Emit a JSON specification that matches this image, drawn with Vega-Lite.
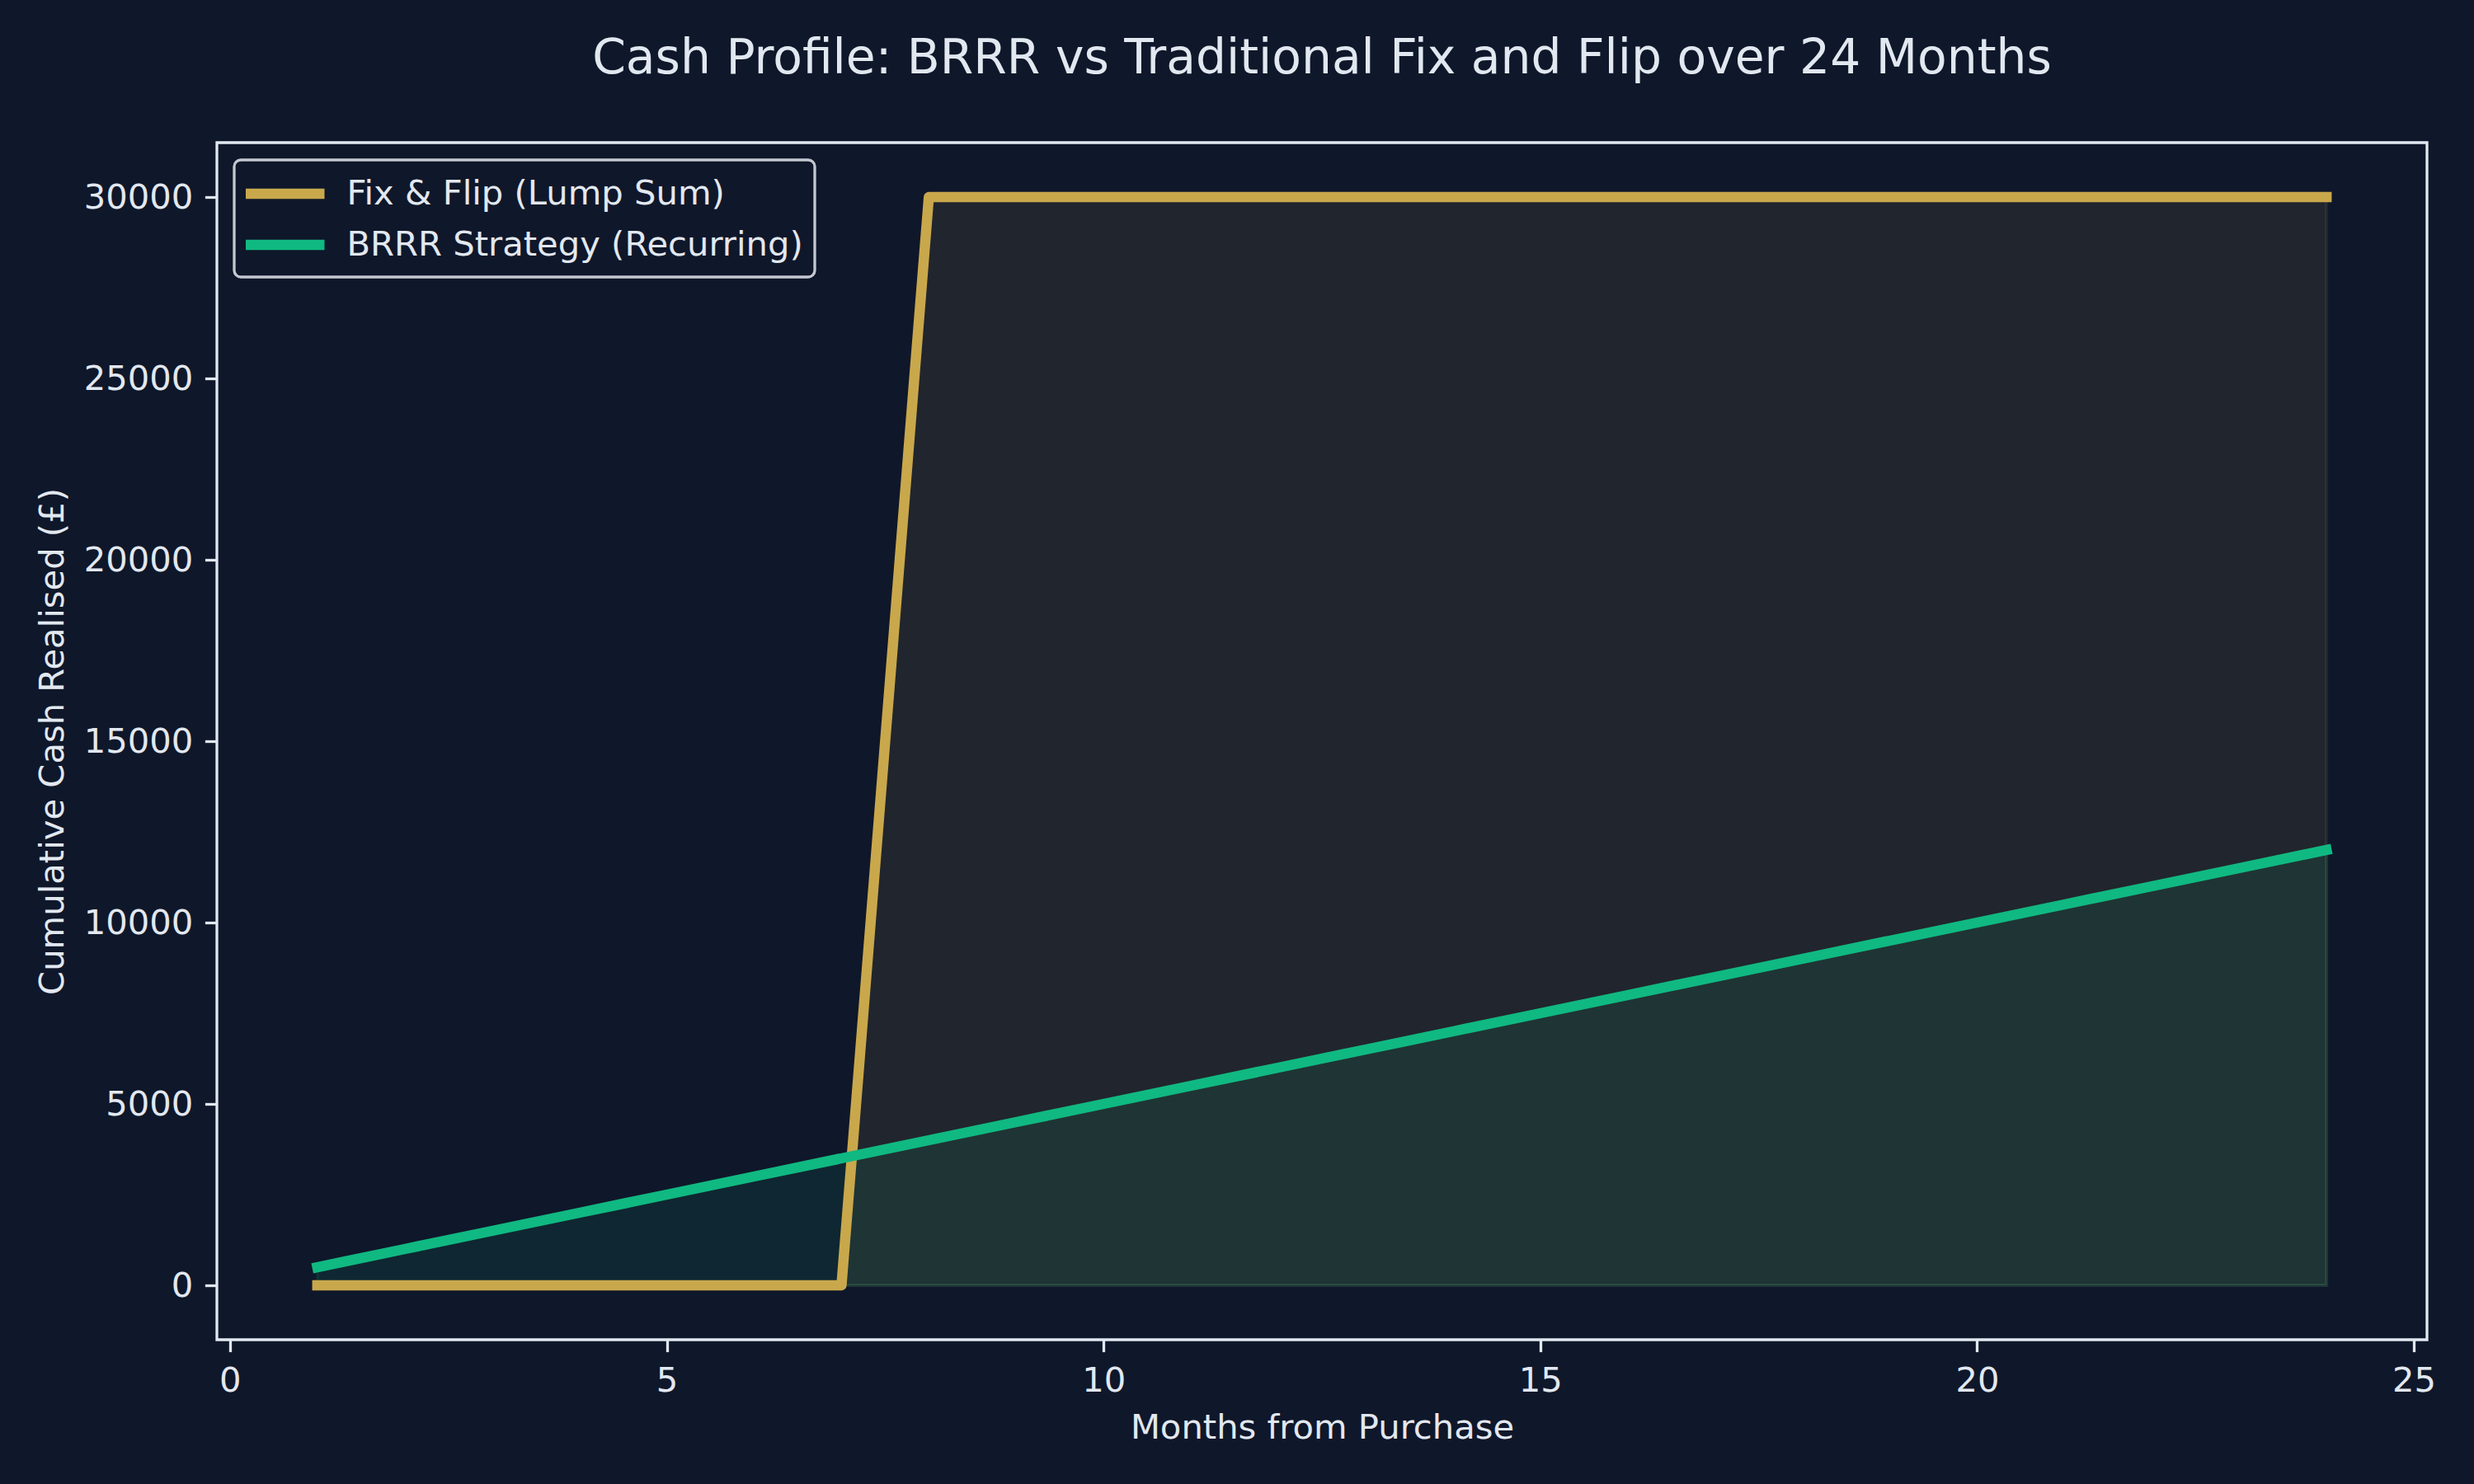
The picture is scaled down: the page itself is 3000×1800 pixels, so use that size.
{
  "$schema": "https://vega.github.io/schema/vega-lite/v6.json",
  "width": 2680,
  "height": 1452,
  "autosize": {"type": "none"},
  "padding": {"left": 263, "top": 173, "right": 57, "bottom": 175},
  "background": "#0f172a",
  "title": {
    "text": "Cash Profile: BRRR vs Traditional Fix and Flip over 24 Months",
    "fontSize": 58.3,
    "font": "DejaVu Sans",
    "fontWeight": "normal",
    "color": "#e2e8f0",
    "anchor": "middle",
    "offset": 26,
    "baseline": "alphabetic"
  },
  "data": {
    "values": [
      {"month": 1, "strategy": "Fix & Flip (Lump Sum)", "cash": 0},
      {"month": 2, "strategy": "Fix & Flip (Lump Sum)", "cash": 0},
      {"month": 3, "strategy": "Fix & Flip (Lump Sum)", "cash": 0},
      {"month": 4, "strategy": "Fix & Flip (Lump Sum)", "cash": 0},
      {"month": 5, "strategy": "Fix & Flip (Lump Sum)", "cash": 0},
      {"month": 6, "strategy": "Fix & Flip (Lump Sum)", "cash": 0},
      {"month": 7, "strategy": "Fix & Flip (Lump Sum)", "cash": 0},
      {"month": 8, "strategy": "Fix & Flip (Lump Sum)", "cash": 30000},
      {"month": 9, "strategy": "Fix & Flip (Lump Sum)", "cash": 30000},
      {"month": 10, "strategy": "Fix & Flip (Lump Sum)", "cash": 30000},
      {"month": 11, "strategy": "Fix & Flip (Lump Sum)", "cash": 30000},
      {"month": 12, "strategy": "Fix & Flip (Lump Sum)", "cash": 30000},
      {"month": 13, "strategy": "Fix & Flip (Lump Sum)", "cash": 30000},
      {"month": 14, "strategy": "Fix & Flip (Lump Sum)", "cash": 30000},
      {"month": 15, "strategy": "Fix & Flip (Lump Sum)", "cash": 30000},
      {"month": 16, "strategy": "Fix & Flip (Lump Sum)", "cash": 30000},
      {"month": 17, "strategy": "Fix & Flip (Lump Sum)", "cash": 30000},
      {"month": 18, "strategy": "Fix & Flip (Lump Sum)", "cash": 30000},
      {"month": 19, "strategy": "Fix & Flip (Lump Sum)", "cash": 30000},
      {"month": 20, "strategy": "Fix & Flip (Lump Sum)", "cash": 30000},
      {"month": 21, "strategy": "Fix & Flip (Lump Sum)", "cash": 30000},
      {"month": 22, "strategy": "Fix & Flip (Lump Sum)", "cash": 30000},
      {"month": 23, "strategy": "Fix & Flip (Lump Sum)", "cash": 30000},
      {"month": 24, "strategy": "Fix & Flip (Lump Sum)", "cash": 30000},
      {"month": 1, "strategy": "BRRR Strategy (Recurring)", "cash": 500},
      {"month": 2, "strategy": "BRRR Strategy (Recurring)", "cash": 1000},
      {"month": 3, "strategy": "BRRR Strategy (Recurring)", "cash": 1500},
      {"month": 4, "strategy": "BRRR Strategy (Recurring)", "cash": 2000},
      {"month": 5, "strategy": "BRRR Strategy (Recurring)", "cash": 2500},
      {"month": 6, "strategy": "BRRR Strategy (Recurring)", "cash": 3000},
      {"month": 7, "strategy": "BRRR Strategy (Recurring)", "cash": 3500},
      {"month": 8, "strategy": "BRRR Strategy (Recurring)", "cash": 4000},
      {"month": 9, "strategy": "BRRR Strategy (Recurring)", "cash": 4500},
      {"month": 10, "strategy": "BRRR Strategy (Recurring)", "cash": 5000},
      {"month": 11, "strategy": "BRRR Strategy (Recurring)", "cash": 5500},
      {"month": 12, "strategy": "BRRR Strategy (Recurring)", "cash": 6000},
      {"month": 13, "strategy": "BRRR Strategy (Recurring)", "cash": 6500},
      {"month": 14, "strategy": "BRRR Strategy (Recurring)", "cash": 7000},
      {"month": 15, "strategy": "BRRR Strategy (Recurring)", "cash": 7500},
      {"month": 16, "strategy": "BRRR Strategy (Recurring)", "cash": 8000},
      {"month": 17, "strategy": "BRRR Strategy (Recurring)", "cash": 8500},
      {"month": 18, "strategy": "BRRR Strategy (Recurring)", "cash": 9000},
      {"month": 19, "strategy": "BRRR Strategy (Recurring)", "cash": 9500},
      {"month": 20, "strategy": "BRRR Strategy (Recurring)", "cash": 10000},
      {"month": 21, "strategy": "BRRR Strategy (Recurring)", "cash": 10500},
      {"month": 22, "strategy": "BRRR Strategy (Recurring)", "cash": 11000},
      {"month": 23, "strategy": "BRRR Strategy (Recurring)", "cash": 11500},
      {"month": 24, "strategy": "BRRR Strategy (Recurring)", "cash": 12000}
    ]
  },
  "encoding": {
    "x": {
      "field": "month",
      "type": "quantitative",
      "scale": {"domain": [-0.15, 25.15], "nice": false, "zero": false},
      "axis": {
        "values": [0, 5, 10, 15, 20, 25],
        "title": "Months from Purchase",
        "format": "d"
      }
    },
    "y": {
      "field": "cash",
      "type": "quantitative",
      "scale": {"domain": [-1500, 31500], "nice": false, "zero": false},
      "axis": {
        "values": [0, 5000, 10000, 15000, 20000, 25000, 30000],
        "title": "Cumulative Cash Realised (£)",
        "format": "d"
      }
    }
  },
  "layer": [
    {
      "mark": {"type": "area", "fillOpacity": 0.1, "strokeOpacity": 0.1, "strokeWidth": 4, "interpolate": "linear"},
      "encoding": {
        "y2": {"datum": 0},
        "detail": {"field": "strategy", "type": "nominal"},
        "fill": {
          "condition": {"test": "datum.strategy === 'BRRR Strategy (Recurring)'", "value": "#10b981"},
          "value": "#c9a84c"
        },
        "stroke": {
          "condition": {"test": "datum.strategy === 'BRRR Strategy (Recurring)'", "value": "#10b981"},
          "value": "#c9a84c"
        }
      }
    },
    {
      "mark": {"type": "line", "strokeWidth": 12.5, "strokeCap": "square", "strokeJoin": "round"},
      "encoding": {
        "color": {
          "field": "strategy",
          "type": "nominal",
          "sort": ["Fix & Flip (Lump Sum)", "BRRR Strategy (Recurring)"],
          "scale": {
            "domain": ["Fix & Flip (Lump Sum)", "BRRR Strategy (Recurring)"],
            "range": ["#c9a84c", "#10b981"]
          },
          "legend": {
            "title": null,
            "orient": "top-left",
            "offset": 21,
            "symbolType": "M-1,0H3",
            "symbolSize": 1722,
            "symbolStrokeWidth": 12.5,
            "labelFontSize": 41.7,
            "labelFont": "DejaVu Sans",
            "labelColor": "#e2e8f0",
            "labelLimit": 2000,
            "labelOffset": 68.5,
            "rowPadding": 10,
            "padding": 14,
            "strokeColor": "#c3c8d0",
            "cornerRadius": 8,
            "fillColor": "#0f172a",
            "encode": {
              "legend": {"update": {"strokeWidth": {"value": 3.3}}},
              "symbols": {"update": {"strokeCap": {"value": "square"}}}
            }
          }
        }
      }
    }
  ],
  "config": {
    "font": "DejaVu Sans",
    "view": {"stroke": "#e2e8f0", "strokeWidth": 3.3},
    "axis": {
      "domain": false,
      "grid": false,
      "ticks": true,
      "tickSize": 14.6,
      "tickWidth": 3.3,
      "tickColor": "#e2e8f0",
      "labelPadding": 14.6,
      "labelFontSize": 41.7,
      "labelFont": "DejaVu Sans",
      "labelColor": "#e2e8f0",
      "titleFontSize": 41.7,
      "titleFont": "DejaVu Sans",
      "titleFontWeight": "normal",
      "titleColor": "#e2e8f0",
      "titlePadding": 16
    }
  }
}
